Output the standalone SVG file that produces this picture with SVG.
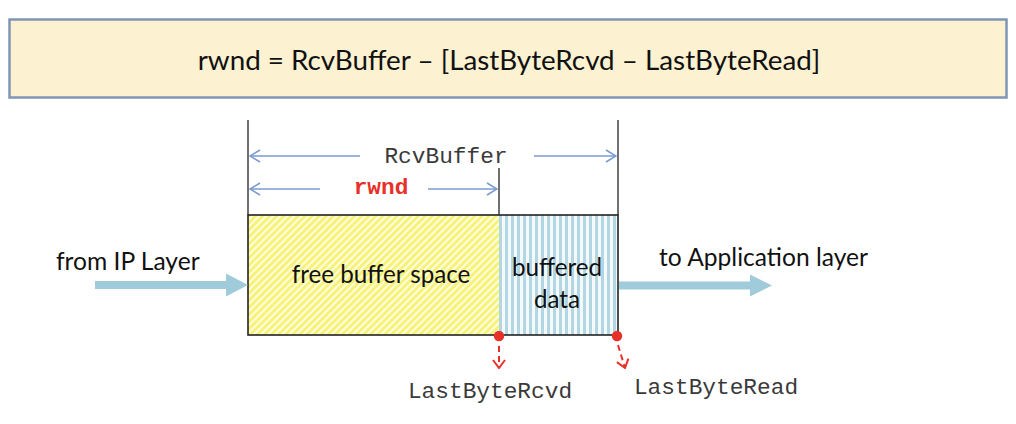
<svg xmlns="http://www.w3.org/2000/svg" width="1016" height="424" viewBox="0 0 1016 424">
<style>
.sans{font-family:Lato,"Open Sans","Liberation Sans",sans-serif;fill:#111}
.mono{font-family:"Liberation Mono","DejaVu Sans Mono",monospace;fill:#3a3a3a;font-size:22.8px}
.dim{stroke:#7B9BCF;stroke-width:1.6;fill:none}
.vline{stroke:#222;stroke-width:1.3;fill:none}
.thick{stroke:#9FCBDA;stroke-width:8;fill:none}
.red{stroke:#E8302A;stroke-width:2;fill:none;stroke-dasharray:6 4}
</style>
<defs>
<marker id="open" viewBox="0 0 12 14" refX="11" refY="7" markerWidth="12" markerHeight="14" markerUnits="userSpaceOnUse" orient="auto-start-reverse">
<path d="M1 1 L11 7 L1 13" fill="none" stroke="#7B9BCF" stroke-width="1.6"/>
</marker>
<marker id="redhead" viewBox="0 0 10 14" refX="9" refY="7" markerWidth="10" markerHeight="14" markerUnits="userSpaceOnUse" orient="auto">
<path d="M1 1 L9 7 L1 13" fill="none" stroke="#E8302A" stroke-width="2"/>
</marker>
<pattern id="yellowHatch" patternUnits="userSpaceOnUse" width="5" height="5" patternTransform="rotate(45)">
<rect width="5" height="5" fill="#F6F27A"/>
<rect width="2" height="5" fill="#FFFDE0"/>
</pattern>
<pattern id="blueStripe" patternUnits="userSpaceOnUse" width="6" height="6" x="1">
<rect width="6" height="6" fill="#F4FAFC"/>
<rect width="3" height="6" fill="#B3D6E3"/>
</pattern>
</defs>

<g id="formula">
<rect x="9.5" y="19.5" width="997" height="78" fill="#FCF1D1" stroke="#8095B3" stroke-width="2.5"/>
<text class="sans" x="509" y="70" text-anchor="middle" font-size="27.8">rwnd = RcvBuffer – [LastByteRcvd – LastByteRead]</text>
</g>

<g id="free-buffer-space">
<rect x="248" y="215" width="251" height="120" fill="url(#yellowHatch)"/>
<text class="sans" x="381" y="283" text-anchor="middle" font-size="24.2">free buffer space</text>
</g>

<g id="buffered-data">
<rect x="499" y="215" width="119" height="120" fill="url(#blueStripe)"/>
<text class="sans" x="557" y="276" text-anchor="middle" font-size="24.2">buffered</text>
<text class="sans" x="557" y="308" text-anchor="middle" font-size="24.2">data</text>
</g>

<g id="buffer-outline">
<rect x="248" y="215" width="370" height="120" fill="none" stroke="#222" stroke-width="1.6"/>
</g>

<g id="labels">
<text class="sans" x="56" y="270" font-size="24.6">from IP Layer</text>
<text class="sans" x="659" y="266" font-size="24.6">to Application layer</text>
<text class="mono" x="446" y="163" text-anchor="middle">RcvBuffer</text>
<text class="mono" x="381" y="194" text-anchor="middle" font-weight="bold" style="fill:#E8302A">rwnd</text>
<text class="mono" x="490" y="398" text-anchor="middle">LastByteRcvd</text>
<text class="mono" x="716" y="394" text-anchor="middle">LastByteRead</text>
</g>

<g id="connectors">
<line class="vline" x1="248" y1="120" x2="248" y2="215"/>
<line class="vline" x1="618" y1="120" x2="618" y2="215"/>
<line class="vline" x1="499" y1="168" x2="499" y2="215"/>
<line class="dim" x1="360" y1="156" x2="250" y2="156" marker-end="url(#open)"/>
<line class="dim" x1="534" y1="156" x2="616" y2="156" marker-end="url(#open)"/>
<line class="dim" x1="320" y1="189" x2="250" y2="189" marker-end="url(#open)"/>
<line class="dim" x1="428" y1="189" x2="497" y2="189" marker-end="url(#open)"/>
<line class="thick" x1="95" y1="285" x2="228" y2="285"/>
<polygon points="226,273.5 248,285 226,296.5" fill="#9FCBDA"/>
<line class="thick" x1="619" y1="285.5" x2="752" y2="285.5"/>
<polygon points="750,274.5 772,285.5 750,296.5" fill="#9FCBDA"/>
<circle cx="499" cy="336" r="5.2" fill="#E8302A"/>
<circle cx="617" cy="336" r="5.2" fill="#E8302A"/>
<line class="red" x1="499" y1="346" x2="499" y2="368" marker-end="url(#redhead)"/>
<line class="red" x1="618" y1="345" x2="625" y2="368" marker-end="url(#redhead)"/>
</g>
</svg>
